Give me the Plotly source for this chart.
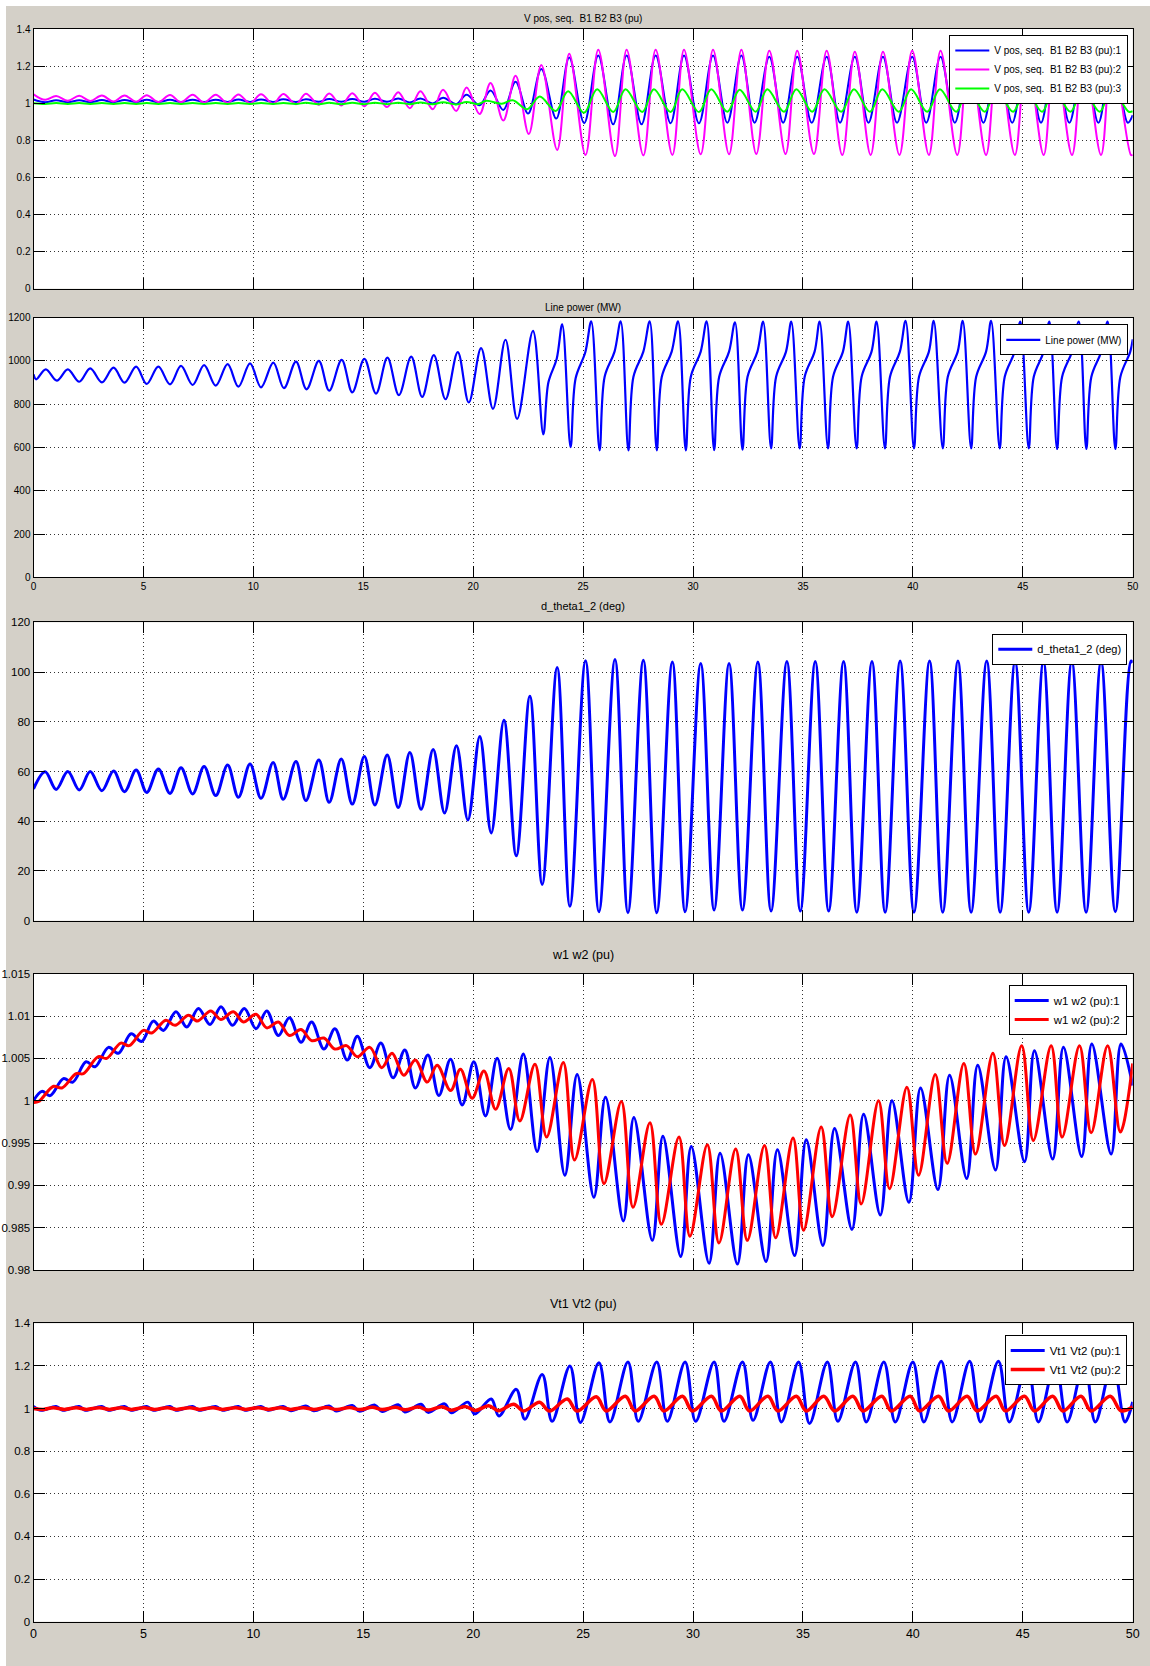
import plotly.graph_objects as go

# ---------------- DATA ----------------
x_ticks = [0, 5, 10, 15, 20, 25, 30, 35, 40, 45, 50]
x_tick_labels = ["0", "5", "10", "15", "20", "25", "30", "35", "40", "45", "50"]

p1_ticks = [0, 0.2, 0.4, 0.6, 0.8, 1.0, 1.2, 1.4]
p1_tick_labels = ["0", "0.2", "0.4", "0.6", "0.8", "1", "1.2", "1.4"]
p2_ticks = [0, 200, 400, 600, 800, 1000, 1200]
p2_tick_labels = ["0", "200", "400", "600", "800", "1000", "1200"]
p3_ticks = [0, 20, 40, 60, 80, 100, 120]
p3_tick_labels = ["0", "20", "40", "60", "80", "100", "120"]
p4_ticks = [0.98, 0.985, 0.99, 0.995, 1.0, 1.005, 1.01, 1.015]
p4_tick_labels = ["0.98", "0.985", "0.99", "0.995", "1", "1.005", "1.01", "1.015"]
p5_ticks = p1_ticks
p5_tick_labels = p1_tick_labels

# --- Panel 1: V pos. seq. (extrema) ---
vmag_peak_t = [1.03, 2.08, 3.11, 4.14, 5.15, 6.21, 7.24, 8.29, 9.32, 10.35,
               11.36, 12.39, 13.45, 14.5, 15.53, 16.59, 17.60, 18.63, 19.70, 20.79,
               21.93, 23.10, 24.37, 25.69, 26.98, 28.30, 29.59, 30.91, 32.20, 33.47,
               34.74, 36.08, 37.36, 38.64, 39.97, 41.26, 42.56, 43.86, 45.17, 46.45,
               47.77, 49.06]
vmag_peak_v = [1.039, 1.040, 1.041, 1.042, 1.043, 1.044, 1.045, 1.046, 1.047, 1.048,
               1.050, 1.051, 1.052, 1.054, 1.056, 1.059, 1.065, 1.072, 1.084, 1.109,
               1.148, 1.206, 1.267, 1.288, 1.288, 1.288, 1.288, 1.288, 1.288, 1.283,
               1.283, 1.283, 1.278, 1.278, 1.283, 1.283, 1.283, 1.283, 1.283, 1.283,
               1.283, 1.283]
vmag_trough_t = [0.53, 1.56, 2.58, 3.64, 4.67, 5.68, 6.71, 7.76, 8.83, 9.85,
                 10.9, 11.94, 12.98, 14.0, 15.05, 16.08, 17.12, 18.16, 19.23, 20.29,
                 21.37, 22.53, 23.82, 25.11, 26.45, 27.74, 29.06, 30.35, 31.64, 32.88,
                 34.21, 35.50, 36.79, 38.08, 39.39, 40.73, 42.02, 43.33, 44.64, 45.95,
                 47.24, 48.56, 49.92]
vmag_trough_v = [1.018, 1.013, 1.012, 1.009, 1.008, 1.006, 1.005, 1.003, 1.001, 0.999,
                 0.997, 0.995, 0.992, 0.988, 0.984, 0.979, 0.973, 0.968, 0.958, 0.942,
                 0.907, 0.834, 0.748, 0.721, 0.715, 0.719, 0.721, 0.725, 0.725, 0.726,
                 0.726, 0.726, 0.721, 0.721, 0.721, 0.721, 0.721, 0.721, 0.721, 0.721,
                 0.721, 0.721, 0.721]
vmag_ends_t = [0, 50]
vmag_ends_v = [1.048, 0.722]

vblue_peak_t = vmag_peak_t
vblue_peak_v = [1.016, 1.016, 1.017, 1.017, 1.018, 1.018, 1.019, 1.019, 1.020, 1.020,
                1.021, 1.021, 1.022, 1.022, 1.024, 1.026, 1.026, 1.030, 1.045, 1.069,
                1.115, 1.185, 1.247, 1.257, 1.257, 1.257, 1.257, 1.257, 1.257, 1.251,
                1.251, 1.251, 1.251, 1.251, 1.251, 1.251, 1.251, 1.251, 1.251, 1.251,
                1.251, 1.251]
vblue_trough_t = [0.53, 1.56, 2.58, 3.64, 4.67, 5.68, 6.71, 7.76, 8.83, 9.85,
                  10.9, 11.94, 12.98, 14.0, 15.05, 16.08, 17.12, 18.16, 19.23, 20.29,
                  21.37, 22.5, 23.78, 25.05, 26.37, 27.66, 28.98, 30.27, 31.56, 32.8,
                  34.1, 35.4, 36.69, 37.98, 39.28, 40.61, 41.91, 43.21, 44.52, 45.83,
                  47.12, 48.44, 49.78]
vblue_trough_v = [1.005, 1.005, 1.005, 1.005, 1.006, 1.006, 1.006, 1.006, 1.007, 1.007,
                  1.007, 1.007, 1.008, 1.008, 1.008, 1.008, 1.004, 0.999, 0.995, 0.989,
                  0.964, 0.944, 0.917, 0.892, 0.886, 0.886, 0.892, 0.892, 0.895, 0.895,
                  0.895, 0.895, 0.895, 0.895, 0.895, 0.895, 0.895, 0.895, 0.895, 0.895,
                  0.895, 0.895, 0.895]
vblue_ends_t = [0, 50]
vblue_ends_v = [1.020, 0.936]

vgreen_peak_t = [1.03, 2.08, 3.11, 4.14, 5.15, 6.21, 7.24, 8.29, 9.32, 10.35,
                 11.36, 12.39, 13.45, 14.5, 15.53, 16.59, 17.60, 18.63, 19.70, 20.6,
                 21.8, 23.03, 24.32, 25.64, 26.93, 28.22, 29.51, 30.83, 32.12, 33.38,
                 34.70, 35.98, 37.32, 38.61, 39.92, 41.23, 42.50, 43.80, 45.12, 46.41,
                 47.73, 49.03]
vgreen_peak_v = [1.001, 1.001, 1.001, 1.001, 1.001, 1.001, 1.001, 1.001, 1.001, 1.001,
                 1.001, 1.002, 1.002, 1.002, 1.003, 1.003, 1.004, 1.005, 1.007, 1.013,
                 1.016, 1.036, 1.065, 1.075, 1.075, 1.075, 1.075, 1.075, 1.072, 1.075,
                 1.075, 1.075, 1.075, 1.075, 1.075, 1.075, 1.075, 1.075, 1.075, 1.075,
                 1.075, 1.075]
vgreen_trough_t = [0.53, 1.56, 2.58, 3.64, 4.67, 5.68, 6.71, 7.76, 8.83, 9.85,
                   10.9, 11.94, 12.98, 14.0, 15.05, 16.08, 17.12, 18.16, 19.23, 20.2,
                   21.3, 22.46, 23.75, 25.04, 26.37, 27.69, 28.98, 30.27, 31.56, 32.85,
                   34.14, 35.42, 36.74, 38.05, 39.36, 40.65, 41.97, 43.27, 44.56, 45.88,
                   47.17, 48.50, 49.82]
vgreen_trough_v = [0.996, 0.996, 0.996, 0.996, 0.996, 0.996, 0.996, 0.996, 0.996, 0.996,
                   0.996, 0.996, 0.995, 0.995, 0.995, 0.995, 0.995, 0.994, 0.993, 0.995,
                   0.997, 0.968, 0.958, 0.948, 0.952, 0.952, 0.952, 0.952, 0.954, 0.954,
                   0.954, 0.954, 0.954, 0.954, 0.954, 0.954, 0.954, 0.954, 0.954, 0.954,
                   0.954, 0.954, 0.954]
vgreen_ends_t = [0, 50]
vgreen_ends_v = [1.000, 0.957]

# --- Panel 2: Line power (MW) ---
pw_peak_t = [0.56, 1.56, 2.58, 3.64, 4.67, 5.68, 6.71, 7.76, 8.83, 9.85,
             10.91, 11.94, 12.98, 14.02, 15.05, 16.1, 17.18, 18.21, 19.30, 20.36,
             21.47, 22.72, 24.05, 25.37, 26.71, 28.03, 29.32, 30.62, 31.91, 33.19,
             34.47, 35.76, 37.06, 38.35, 39.67, 40.95, 42.27, 43.56, 44.89, 46.21,
             47.55, 48.86]
pw_peak_v = [961, 961, 966, 969, 974, 974, 977, 981, 985, 989,
             992, 997, 1000, 1005, 1010, 1015, 1020, 1027, 1041, 1059,
             1098, 1139, 1169, 1183, 1183, 1183, 1183, 1183, 1179, 1182,
             1182, 1182, 1182, 1182, 1186, 1186, 1186, 1186, 1182, 1182,
             1182, 1182]
pw_trough_t = [0.12, 1.06, 2.08, 3.11, 4.14, 5.15, 6.21, 7.24, 8.29, 9.32,
               10.35, 11.39, 12.42, 13.45, 14.5, 15.58, 16.62, 17.68, 18.74, 19.80,
               20.90, 22.0, 23.19, 24.43, 25.75, 27.06, 28.35, 29.67, 30.96, 32.25,
               33.55, 34.85, 36.14, 37.44, 38.73, 40.05, 41.36, 42.65, 43.95, 45.27,
               46.56, 47.89, 49.21]
pw_trough_v = [915, 909, 904, 901, 900, 894, 892, 889, 886, 881,
               878, 874, 869, 863, 855, 849, 842, 834, 823, 808,
               779, 732, 661, 602, 587, 587, 587, 587, 588, 590,
               596, 596, 596, 596, 596, 596, 596, 596, 596, 596,
               593, 593, 593]
pw_knee1_t = [23.42, 24.66, 25.98, 27.29, 28.58, 29.90, 31.19, 32.48, 33.78, 35.08,
              36.37, 37.67, 38.96, 40.28, 41.59, 42.88, 44.18, 45.50, 46.79, 48.12,
              49.44]
pw_knee1_v = [900, 920, 927, 927, 927, 927, 927, 927, 927, 927,
              927, 927, 927, 927, 927, 927, 927, 927, 927, 927,
              927]
pw_knee2_t = [23.80, 25.10, 26.43, 27.74, 29.03, 30.35, 31.64, 32.93, 34.23, 35.53,
              36.82, 38.12, 39.41, 40.73, 42.04, 43.33, 44.63, 45.95, 47.24, 48.57,
              49.89]
pw_knee2_v = [1010, 1040, 1043, 1043, 1043, 1043, 1043, 1043, 1043, 1043,
              1043, 1043, 1043, 1043, 1043, 1043, 1043, 1043, 1043, 1043,
              1043]
pw_ends_t = [0, 50]
pw_ends_v = [938, 1100]

# --- Panel 3: d_theta1_2 (deg) ---
th_peak_t = [0.53, 1.56, 2.58, 3.64, 4.67, 5.68, 6.71, 7.76, 8.83, 9.85,
             10.9, 11.94, 12.98, 14.0, 15.05, 16.09, 17.12, 18.18, 19.24, 20.30,
             21.40, 22.58, 23.82, 25.11, 26.45, 27.74, 29.06, 30.35, 31.64, 32.95,
             34.27, 35.56, 36.85, 38.14, 39.42, 40.76, 42.05, 43.36, 44.65, 45.94,
             47.23, 48.56, 49.92]
th_peak_v = [59.9, 60.0, 60.0, 60.2, 60.6, 61.0, 61.5, 62.0, 62.6, 63.0,
             63.6, 64.0, 64.6, 65.0, 66.0, 66.6, 67.6, 68.8, 70.4, 74.1,
             80.6, 90.3, 101.8, 104.5, 105.0, 104.7, 104.0, 103.4, 103.4, 104.0,
             104.2, 104.2, 104.2, 104.2, 104.4, 104.4, 104.4, 104.4, 104.2, 104.2,
             104.2, 104.2, 104.4]
th_trough_t = [1.03, 2.08, 3.11, 4.14, 5.15, 6.21, 7.24, 8.29, 9.32, 10.35,
               11.36, 12.39, 13.45, 14.5, 15.53, 16.59, 17.63, 18.70, 19.76, 20.82,
               21.96, 23.14, 24.40, 25.72, 27.04, 28.35, 29.64, 30.96, 32.25, 33.55,
               34.88, 36.17, 37.45, 38.74, 40.05, 41.36, 42.65, 43.97, 45.27, 46.56,
               47.88, 49.21]
th_trough_v = [52.8, 52.6, 52.3, 51.9, 51.6, 51.2, 51.0, 50.3, 49.6, 49.2,
               48.8, 48.3, 47.6, 46.9, 46.5, 45.5, 44.8, 43.3, 40.5, 35.3,
               26.1, 14.6, 5.8, 3.6, 3.2, 3.2, 3.6, 4.3, 4.3, 3.9,
               3.9, 3.9, 3.4, 3.4, 3.4, 3.4, 3.4, 3.4, 3.4, 3.4,
               3.4, 3.6]
th_ends_t = [0, 50]
th_ends_v = [53.0, 103.8]

# --- Panel 4: w1 w2 (pu) ---
w1_peak_t = [0.38, 1.36, 2.39, 3.41, 4.44, 5.45, 6.48, 7.5, 8.53, 9.59,
             10.61, 11.64, 12.65, 13.71, 14.73, 15.8, 16.89, 17.94, 18.97, 20.03,
             21.09, 22.28, 23.49, 24.73, 26.02, 27.31, 28.63, 29.92, 31.23, 32.52,
             33.84, 35.15, 36.44, 37.76, 39.05, 40.35, 41.67, 42.95, 44.24, 45.53,
             46.85, 48.14, 49.47]
w1_peak_v = [1.0011, 1.0026, 1.0046, 1.0063, 1.0079, 1.0094, 1.0105, 1.0109, 1.0111, 1.0109,
             1.0106, 1.0098, 1.0093, 1.0085, 1.0076, 1.0068, 1.0060, 1.0054, 1.0049, 1.0046,
             1.0050, 1.0055, 1.0051, 1.0031, 1.0004, 0.9980, 0.9958, 0.9946, 0.9938, 0.9936,
             0.9942, 0.9954, 0.9967, 0.9984, 1.0000, 1.0015, 1.0030, 1.0042, 1.0052, 1.0059,
             1.0063, 1.0067, 1.0067]
w1_trough_t = [0.76, 1.79, 2.8, 3.86, 4.92, 5.91, 6.97, 8.03, 9.05, 10.12,
               11.14, 12.17, 13.21, 14.27, 15.3, 16.36, 17.37, 18.44, 19.5, 20.56,
               21.7, 22.91, 24.17, 25.49, 26.83, 28.15, 29.44, 30.73, 32.02, 33.32,
               34.62, 35.91, 37.23, 38.52, 39.82, 41.14, 42.45, 43.76, 45.08, 46.36,
               47.68, 49.02]
w1_trough_v = [1.0006, 1.0022, 1.0040, 1.0056, 1.0070, 1.0083, 1.0087, 1.0090, 1.0089, 1.0085,
               1.0077, 1.0069, 1.0061, 1.0048, 1.0039, 1.0027, 1.0015, 1.0006, 0.9995, 0.9982,
               0.9966, 0.9940, 0.9912, 0.9886, 0.9858, 0.9835, 0.9816, 0.9808, 0.9807, 0.9810,
               0.9817, 0.9829, 0.9848, 0.9865, 0.9880, 0.9895, 0.9908, 0.9918, 0.9928, 0.9931,
               0.9934, 0.9937]
w1_ends_t = [0, 50]
w1_ends_v = [1.0000, 1.0018]

w2_peak_t = [0.91, 1.94, 2.95, 3.97, 5.0, 6.02, 7.05, 8.06, 9.09, 10.12,
             11.14, 12.17, 13.21, 14.24, 15.3, 16.31, 17.37, 18.36, 19.42, 20.49,
             21.62, 22.81, 24.10, 25.42, 26.74, 28.04, 29.36, 30.65, 31.94, 33.25,
             34.55, 35.83, 37.15, 38.44, 39.73, 41.02, 42.32, 43.64, 44.95, 46.29,
             47.58, 48.86]
w2_peak_v = [1.0017, 1.0032, 1.0052, 1.0068, 1.0083, 1.0095, 1.0101, 1.0106, 1.0105, 1.0102,
             1.0093, 1.0084, 1.0074, 1.0065, 1.0063, 1.0056, 1.0048, 1.0042, 1.0037, 1.0035,
             1.0038, 1.0043, 1.0045, 1.0025, 0.9999, 0.9974, 0.9957, 0.9948, 0.9943, 0.9947,
             0.9956, 0.9969, 0.9983, 1.0000, 1.0016, 1.0031, 1.0044, 1.0056, 1.0065, 1.0065,
             1.0065, 1.0065]
w2_trough_t = [0.23, 1.29, 2.27, 3.33, 4.35, 5.38, 6.44, 7.45, 8.52, 9.55,
               10.61, 11.64, 12.65, 13.71, 14.73, 15.84, 16.84, 17.91, 18.97, 19.95,
               21.02, 22.12, 23.34, 24.61, 25.95, 27.27, 28.56, 29.86, 31.18, 32.47,
               33.76, 35.03, 36.33, 37.65, 38.94, 40.26, 41.56, 42.85, 44.17, 45.48,
               46.79, 48.11, 49.44]
w2_trough_v = [0.9999, 1.0015, 1.0032, 1.0050, 1.0065, 1.0080, 1.0089, 1.0094, 1.0096, 1.0093,
               1.0086, 1.0077, 1.0071, 1.0061, 1.0052, 1.0039, 1.0030, 1.0022, 1.0012, 1.0003,
               0.9990, 0.9976, 0.9957, 0.9930, 0.9902, 0.9874, 0.9854, 0.9840, 0.9832, 0.9835,
               0.9838, 0.9847, 0.9863, 0.9878, 0.9896, 0.9912, 0.9926, 0.9937, 0.9947, 0.9953,
               0.9957, 0.9962, 0.9963]
w2_ends_t = [0, 50]
w2_ends_v = [0.9998, 1.0044]

# --- Panel 5: Vt1 Vt2 (pu) ---
vt1_peak_t = [1.03, 2.08, 3.11, 4.14, 5.15, 6.21, 7.24, 8.29, 9.32, 10.35,
              11.36, 12.39, 13.45, 14.5, 15.53, 16.59, 17.63, 18.70, 19.76, 20.82,
              21.96, 23.14, 24.40, 25.72, 27.04, 28.35, 29.64, 30.96, 32.25, 33.52,
              34.80, 36.11, 37.39, 38.68, 40.0, 41.29, 42.58, 43.89, 45.2, 46.48,
              47.8, 49.09]
vt1_peak_v = [1.010, 1.010, 1.010, 1.010, 1.010, 1.010, 1.010, 1.010, 1.010, 1.010,
              1.010, 1.012, 1.012, 1.014, 1.016, 1.018, 1.020, 1.022, 1.030, 1.045,
              1.090, 1.160, 1.200, 1.215, 1.219, 1.219, 1.219, 1.219, 1.219, 1.219,
              1.219, 1.219, 1.219, 1.219, 1.219, 1.222, 1.222, 1.222, 1.219, 1.219,
              1.219, 1.219]
vt1_trough_t = [0.35, 1.33, 2.35, 3.41, 4.44, 5.45, 6.48, 7.53, 8.6, 9.62,
                10.67, 11.71, 12.75, 13.77, 14.82, 15.86, 16.89, 17.95, 19.01, 20.07,
                21.17, 22.35, 23.59, 24.88, 26.22, 27.51, 28.83, 30.12, 31.41, 32.73,
                34.02, 35.30, 36.59, 37.88, 39.2, 40.5, 41.79, 43.08, 44.39, 45.71,
                47.02, 48.3, 49.65]
vt1_trough_v = [0.992, 0.992, 0.992, 0.992, 0.992, 0.992, 0.992, 0.992, 0.992, 0.992,
                0.992, 0.990, 0.990, 0.989, 0.988, 0.986, 0.984, 0.982, 0.980, 0.975,
                0.965, 0.950, 0.940, 0.935, 0.937, 0.940, 0.940, 0.940, 0.940, 0.945,
                0.9375, 0.930, 0.940, 0.9375, 0.9375, 0.9375, 0.9375, 0.9375, 0.9375, 0.9375,
                0.9375, 0.9375, 0.9375]
vt1_ends_t = [0, 50]
vt1_ends_v = [1.010, 1.031]

vt2_peak_t = [0.9, 1.95, 3.0, 4.0, 5.03, 6.1, 7.12, 8.17, 9.2, 10.23,
              11.24, 12.27, 13.33, 14.38, 15.41, 16.47, 17.51, 18.58, 19.64, 20.7,
              21.84, 23.02, 24.28, 25.6, 26.92, 28.23, 29.52, 30.84, 32.13, 33.41,
              34.70, 35.95, 37.27, 38.59, 39.88, 41.17, 42.47, 43.79, 45.08, 46.36,
              47.65, 48.98]
vt2_peak_v = [1.004, 1.004, 1.004, 1.004, 1.004, 1.004, 1.004, 1.004, 1.004, 1.004,
              1.004, 1.004, 1.005, 1.005, 1.006, 1.006, 1.007, 1.008, 1.010, 1.013,
              1.020, 1.030, 1.045, 1.055, 1.058, 1.058, 1.058, 1.058, 1.058, 1.058,
              1.058, 1.058, 1.058, 1.058, 1.058, 1.058, 1.058, 1.058, 1.058, 1.058,
              1.058, 1.058]
vt2_trough_t = [0.45, 1.4, 2.4, 3.45, 4.45, 5.5, 6.5, 7.55, 8.6, 9.65,
                10.7, 11.7, 12.75, 13.8, 14.85, 15.85, 16.9, 17.95, 19.0, 20.1,
                21.15, 22.3, 23.47, 24.72, 26.05, 27.37, 28.67, 29.97, 31.28, 32.57,
                33.86, 35.15, 36.44, 37.73, 39.02, 40.3, 41.62, 42.92, 44.21, 45.53,
                46.82, 48.11, 49.47]
vt2_trough_v = [0.996, 0.996, 0.996, 0.996, 0.996, 0.996, 0.996, 0.996, 0.996, 0.996,
                0.996, 0.996, 0.996, 0.995, 0.995, 0.995, 0.994, 0.993, 0.992, 0.991,
                0.990, 0.989, 0.988, 0.988, 0.989, 0.989, 0.989, 0.989, 0.989, 0.989,
                0.989, 0.989, 0.989, 0.989, 0.989, 0.989, 0.989, 0.989, 0.989, 0.989,
                0.989, 0.989, 0.989]
vt2_ends_t = [0, 50]
vt2_ends_v = [1.000, 1.008]


# ---------------- helpers ----------------
def merge(*groups):
    pts = []
    for t, v in groups:
        assert len(t) == len(v), (len(t), len(v))
        pts.extend(zip(t, v))
    pts.sort(key=lambda p: p[0])
    return [p[0] for p in pts], [p[1] for p in pts]


BLUE, MAG, GREEN, RED = "#0000ff", "#ff00ff", "#00ff00", "#ff0000"
GREY = "#d4d0c8"
FONT = "Liberation Sans, Arial, sans-serif"

W, H = 1150, 1666
X0, X1 = 33.5, 1132.7
panels_px = [(29.0, 288.7), (317.7, 577.3), (622.3, 920.7), (973.7, 1270.0), (1323.3, 1621.7)]


def ydom(top, bot):
    return [1 - bot / H, 1 - top / H]


fig = go.Figure()

series = [
    (1, "legend", "V pos, seq.\u00a0 B1 B2 B3 (pu):1", BLUE, 2,
     [(vblue_peak_t, vblue_peak_v), (vblue_trough_t, vblue_trough_v), (vblue_ends_t, vblue_ends_v)]),
    (1, "legend", "V pos, seq.\u00a0 B1 B2 B3 (pu):2", MAG, 2,
     [(vmag_peak_t, vmag_peak_v), (vmag_trough_t, vmag_trough_v), (vmag_ends_t, vmag_ends_v)]),
    (1, "legend", "V pos, seq.\u00a0 B1 B2 B3 (pu):3", GREEN, 2,
     [(vgreen_peak_t, vgreen_peak_v), (vgreen_trough_t, vgreen_trough_v), (vgreen_ends_t, vgreen_ends_v)]),
    (2, "legend2", "Line power (MW)", BLUE, 2.2,
     [(pw_peak_t, pw_peak_v), (pw_trough_t, pw_trough_v), (pw_knee1_t, pw_knee1_v),
      (pw_knee2_t, pw_knee2_v), (pw_ends_t, pw_ends_v)]),
    (3, "legend3", "d_theta1_2 (deg)", BLUE, 3,
     [(th_peak_t, th_peak_v), (th_trough_t, th_trough_v), (th_ends_t, th_ends_v)]),
    (4, "legend4", "w1 w2 (pu):1", BLUE, 3,
     [(w1_peak_t, w1_peak_v), (w1_trough_t, w1_trough_v), (w1_ends_t, w1_ends_v)]),
    (4, "legend4", "w1 w2 (pu):2", RED, 3,
     [(w2_peak_t, w2_peak_v), (w2_trough_t, w2_trough_v), (w2_ends_t, w2_ends_v)]),
    (5, "legend5", "Vt1 Vt2 (pu):1", BLUE, 3,
     [(vt1_peak_t, vt1_peak_v), (vt1_trough_t, vt1_trough_v), (vt1_ends_t, vt1_ends_v)]),
    (5, "legend5", "Vt1 Vt2 (pu):2", RED, 3.5,
     [(vt2_peak_t, vt2_peak_v), (vt2_trough_t, vt2_trough_v), (vt2_ends_t, vt2_ends_v)]),
]

for p, leg, name, color, width, groups in series:
    t, v = merge(*groups)
    sfx = "" if p == 1 else str(p)
    fig.add_trace(go.Scatter(
        x=t, y=v, mode="lines", name=name,
        line=dict(color=color, width=width, shape="spline", smoothing=1.0),
        xaxis="x" + sfx, yaxis="y" + sfx, legend=leg, showlegend=True,
    ))

# (y range, ticks, labels, y tick font size, x tick labels shown, x tick font size)
yspecs = [
    ([0, 1.4], p1_ticks, p1_tick_labels, 10, False, 10),
    ([0, 1200], p2_ticks, p2_tick_labels, 10, True, 10),
    ([0, 120], p3_ticks, p3_tick_labels, 11.5, False, 12),
    ([0.98, 1.015], p4_ticks, p4_tick_labels, 11.5, False, 12),
    ([0, 1.4], p5_ticks, p5_tick_labels, 11.5, True, 12.5),
]

layout = dict(
    width=W, height=H,
    margin=dict(l=0, r=0, t=0, b=0),
    paper_bgcolor=GREY, plot_bgcolor="white",
    showlegend=True,
)

grid_common = dict(showgrid=True, gridcolor="#333333", griddash="1px,3px", gridwidth=1,
                   showline=True, linecolor="black", linewidth=1, mirror="ticks",
                   ticks="inside", ticklen=11, tickwidth=1, tickcolor="black",
                   zeroline=False, automargin=False, fixedrange=True)

for i, ((top, bot), (yr, tv, tt, yfs, showx, xfs)) in enumerate(zip(panels_px, yspecs)):
    sfx = "" if i == 0 else str(i + 1)
    layout["xaxis" + sfx] = dict(
        domain=[X0 / W, X1 / W], range=[0, 50], anchor="y" + sfx,
        tickvals=x_ticks, ticktext=x_tick_labels, showticklabels=showx,
        tickfont=dict(family=FONT, size=xfs, color="black"), **grid_common)
    layout["yaxis" + sfx] = dict(
        domain=ydom(top, bot), range=yr, anchor="x" + sfx,
        tickvals=tv, ticktext=tt,
        tickfont=dict(family=FONT, size=yfs, color="black"), **grid_common)


def legend_box(right_px, top_px, fs, itemw):
    return dict(x=right_px / W, y=1 - top_px / H, xanchor="right", yanchor="top",
                bgcolor="white", bordercolor="black", borderwidth=1,
                font=dict(family=FONT, size=fs, color="black"),
                itemwidth=itemw, tracegroupgap=0, itemclick=False, itemdoubleclick=False)


layout["legend"] = legend_box(1128.3, 35, 10, 34)
layout["legend2"] = legend_box(1128.3, 324.3, 10, 34)
layout["legend3"] = legend_box(1127.3, 633.7, 11, 34)
layout["legend4"] = legend_box(1126.7, 985, 11.5, 34)
layout["legend5"] = legend_box(1126.7, 1335, 11.5, 34)

# white strips at top and left edge of the window
layout["shapes"] = [
    dict(type="rect", xref="paper", yref="paper", x0=0, x1=1, y0=1 - 6 / H, y1=1,
         fillcolor="white", line=dict(width=0), layer="below"),
    dict(type="rect", xref="paper", yref="paper", x0=0, x1=6 / W, y0=0, y1=1,
         fillcolor="white", line=dict(width=0), layer="below"),
]

titles = [
    ("V pos, seq.\u00a0 B1 B2 B3 (pu)", 18.4, 10),
    ("Line power (MW)", 307.3, 10),
    ("d_theta1_2 (deg)", 606.0, 11),
    ("w1 w2 (pu)", 955.4, 12.5),
    ("Vt1 Vt2 (pu)", 1304.4, 12.5),
]
layout["annotations"] = [
    dict(text=txt, x=(X0 + X1) / 2 / W, y=1 - ypx / H, xref="paper", yref="paper",
         xanchor="center", yanchor="middle", showarrow=False,
         font=dict(family=FONT, size=fs, color="black"))
    for txt, ypx, fs in titles
]

fig.update_layout(**layout)
fig.write_html(
    "out.html",
    config={"displayModeBar": False, "staticPlot": False},
    post_script="document.body.style.margin='0px';document.body.style.padding='0px';"
                "document.body.style.overflow='hidden';",
)
